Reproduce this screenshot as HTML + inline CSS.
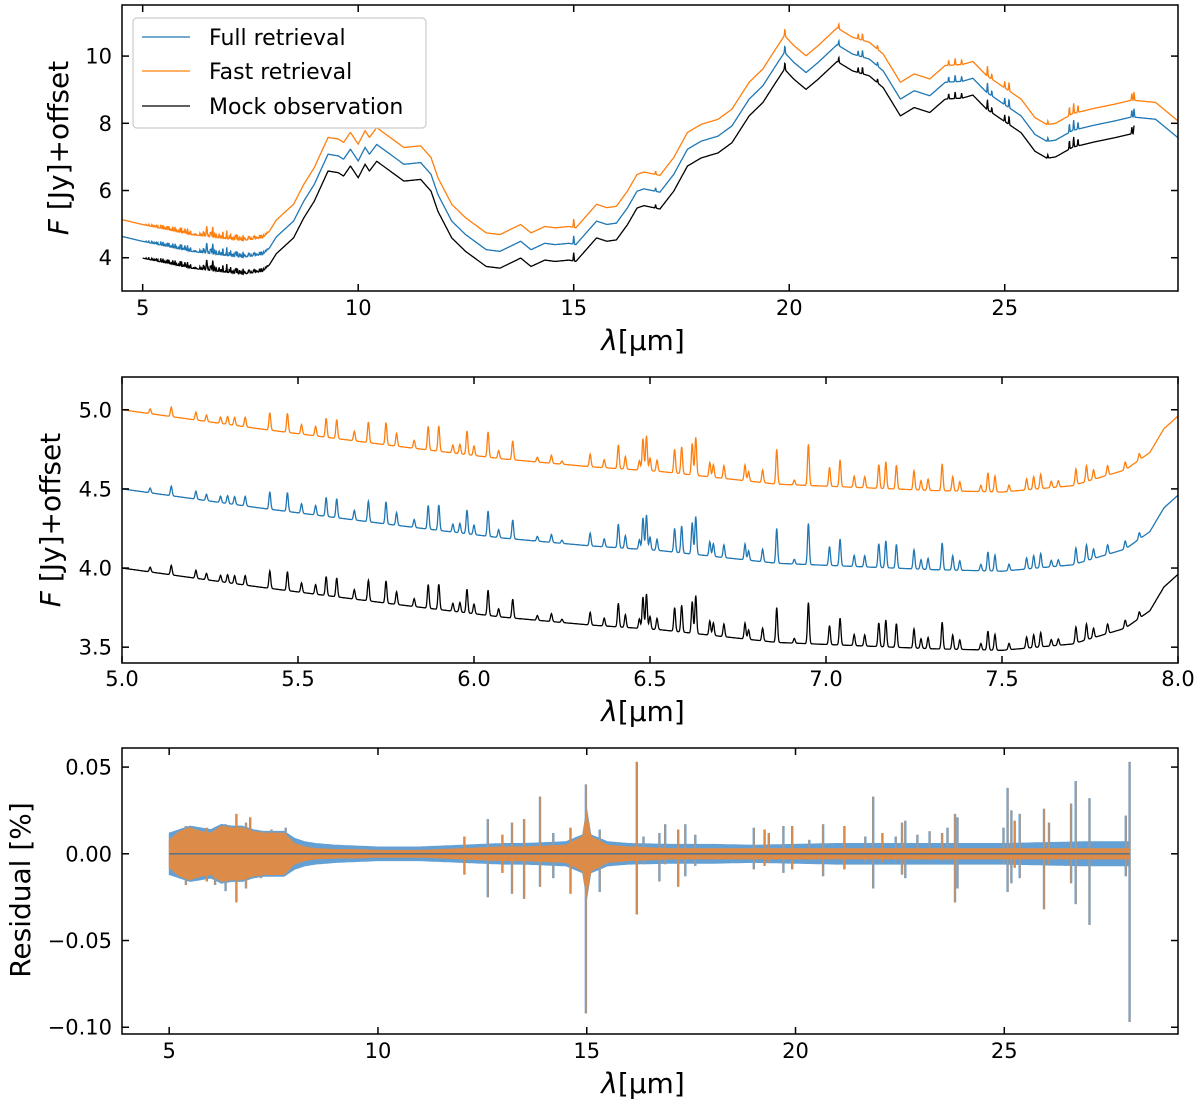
<!DOCTYPE html>
<html><head><meta charset="utf-8"><style>
html,body{margin:0;padding:0;background:#fff}
svg{display:block;font-family:"DejaVu Sans","Liberation Sans",sans-serif}
</style></head><body>
<svg id="fig" width="1200" height="1105" viewBox="0 0 1200 1105" xmlns="http://www.w3.org/2000/svg"></svg>
<script>
// ---------- Panel 1: full spectrum (mock observation baseline, offsets per series) ----------
const p1Lambda = [4.5,4.99,6.11,7.31,7.78,7.94,8.10,8.50,8.74,8.98,9.30,9.54,9.66,9.82,10.0,10.16,10.26,10.43,10.74,11.06,11.45,11.69,11.85,12.17,12.49,12.97,13.29,13.53,13.77,14.01,14.33,14.57,14.89,15.05,15.53,15.77,15.99,16.25,16.47,16.63,17.0,17.32,17.64,17.96,18.35,18.67,19.07,19.39,19.71,19.89,20.11,20.39,20.67,21.11,21.47,21.86,22.18,22.58,22.9,23.26,23.62,24.02,24.26,24.58,24.98,25.38,25.7,25.98,26.18,26.58,27.06,27.55,27.95,28.5,29.02];
const p1Flux = [4.14,3.99,3.69,3.51,3.59,3.79,4.12,4.59,5.19,5.68,6.58,6.53,6.43,6.73,6.38,6.78,6.58,6.87,6.58,6.28,6.33,5.98,5.38,4.59,4.19,3.74,3.69,3.84,3.99,3.74,3.93,3.89,3.93,3.89,4.59,4.49,4.53,4.99,5.48,5.55,5.45,5.98,6.73,6.97,7.12,7.42,8.22,8.62,9.26,9.61,9.31,9.01,9.31,9.84,9.56,9.41,9.06,8.22,8.47,8.32,8.72,8.75,8.84,8.42,8.07,7.72,7.17,6.96,7.0,7.29,7.44,7.57,7.69,7.62,7.07];
const p1LineLambda = [15.0,16.9,19.9,21.15,21.6,21.7,22.05,23.7,23.85,24.0,24.6,24.7,25.0,25.1,26.0,26.5,26.6,26.7,27.95,28.0];
const p1LineHeight = [0.25,0.1,0.2,0.15,0.15,0.2,0.12,0.15,0.2,0.15,0.3,0.15,0.2,0.25,0.1,0.25,0.3,0.2,0.2,0.25];
const seriesNames = ["Mock observation","Full retrieval","Fast retrieval"];
const seriesOffset = [0, 0.5, 1.0];
const mockRange = [5, 28];
const p1XTicks = [5,10,15,20,25];
const p1YTicks = [4,6,8,10];

// ---------- Panel 2: 5–8 µm zoom ----------
const p2Lambda = [5.0,5.39,5.78,6.08,6.33,6.53,6.86,7.3,7.5,7.7,7.85,7.92,7.96,8.0];
const p2Flux = [4.0,3.88,3.77,3.69,3.64,3.61,3.53,3.49,3.48,3.52,3.62,3.73,3.88,3.96];
const lineLambda = [5.08,5.14,5.21,5.24,5.28,5.30,5.32,5.35,5.42,5.47,5.51,5.55,5.58,5.61,5.66,5.70,5.75,5.78,5.83,5.87,5.90,5.94,5.96,5.98,6.00,6.04,6.07,6.11,6.18,6.22,6.25,6.33,6.37,6.41,6.43,6.47,6.48,6.49,6.50,6.52,6.57,6.59,6.62,6.63,6.67,6.68,6.71,6.77,6.78,6.82,6.86,6.91,6.95,7.01,7.04,7.08,7.11,7.15,7.17,7.20,7.25,7.27,7.29,7.33,7.36,7.38,7.44,7.46,7.48,7.52,7.57,7.59,7.61,7.64,7.66,7.71,7.74,7.76,7.80,7.85,7.89];
const lineHeight = [0.03,0.06,0.05,0.04,0.04,0.05,0.05,0.06,0.11,0.12,0.06,0.06,0.12,0.12,0.06,0.13,0.14,0.08,0.05,0.15,0.16,0.05,0.06,0.15,0.06,0.16,0.05,0.12,0.03,0.05,0.02,0.08,0.05,0.15,0.08,0.06,0.2,0.22,0.08,0.07,0.15,0.17,0.2,0.24,0.09,0.08,0.08,0.1,0.06,0.08,0.22,0.03,0.26,0.12,0.17,0.07,0.07,0.15,0.17,0.15,0.12,0.06,0.07,0.17,0.09,0.06,0.04,0.12,0.1,0.04,0.07,0.08,0.09,0.04,0.04,0.1,0.1,0.06,0.06,0.05,0.04];
const p2XTicks = [5.0,5.5,6.0,6.5,7.0,7.5,8.0];
const p2YTicks = [3.5,4.0,4.5,5.0];

// ---------- Panel 3: residuals ----------
const residLambda = [5,5.25,5.5,5.75,6,6.25,6.5,6.75,7,7.25,7.5,7.75,8,8.25,8.5,9,9.5,10,10.5,11,11.5,12,12.5,13,13.5,14,14.5,14.9,15,15.1,15.5,16,17,18,19,20,21,22,23,24,25,26,27,28];
const fullEnv = [12,14,16,15,14,17,16,16,14,13,13,13,9,7,6,5,4.5,4,4,4,4.5,5,5.5,6,6,6.5,7,11,26,11,7,6,5.5,5.5,5,5.5,6,6,6,6,6,6.5,7,7];
const fastEnv = [8,13,15,13,12,16,15,15,13,12,12,12,6,4,3,2.5,2.5,2,2,2,2.5,3,3.5,4,4,4.5,5,10,24,10,5,4,3,3,3,3,3,3,3,3,3,3,3,3];
const spikeLambda = [5.4,5.9,6.1,6.35,6.61,6.84,6.94,7.2,7.45,7.79,12.07,12.63,12.98,13.21,13.5,13.88,14.2,14.61,14.98,15.31,16.2,16.36,16.74,16.88,17.19,17.36,17.6,19.0,19.26,19.36,19.71,19.92,20.33,20.66,21.17,21.67,21.86,22.08,22.4,22.55,22.63,22.92,23.21,23.51,23.64,23.82,23.88,24.98,25.08,25.17,25.25,25.37,25.95,26.07,26.6,26.71,27.04,27.91,28.0];
const spikeUp = [16,15,14,17,23,18,21,13,14,15,10,20,11,18,20,33,12,15,40,14,53,10,12,17,14,17,11,15,14,12,16,16,8,17,16,10,33,12,10,18,19,11,13,12,15,23,21,15,38,25,19,23,26,18,29,42,32,22,53];
const spikeDown = [18,16,18,21.5,28,20,12,14,13,10,12,25,11,23,26,19,14,23,92,22,35,6,16,6,19,13,7,9,7,5,11,9,4,13,9,5,20,5,5,12,14,4,4,4,4,28,20,6,22,17,8,14,32,6,17,29,41,13,97];
const p3XTicks = [5,10,15,20,25];
const p3YTicks = [0.05,0.00,-0.05,-0.10];

// ---------- rendering ----------
const NS = "http://www.w3.org/2000/svg";
const svg = document.getElementById("fig");
function el(tag, attrs, parent) {
  const e = document.createElementNS(NS, tag);
  for (const k in attrs) e.setAttribute(k, attrs[k]);
  (parent || svg).appendChild(e);
  return e;
}
function interp(xs, ys, x) {
  if (x <= xs[0]) return ys[0];
  for (let i = 1; i < xs.length; i++) {
    if (x <= xs[i]) { const t = (x - xs[i-1]) / (xs[i] - xs[i-1]); return ys[i-1] + t * (ys[i] - ys[i-1]); }
  }
  return ys[ys.length - 1];
}
function lines(lam, hs, x, sig) {
  let s = 0;
  for (let i = 0; i < lam.length; i++) {
    const d = (x - lam[i]) / sig;
    if (d > -5 && d < 5) s += hs[i] * Math.exp(-0.5 * d * d);
  }
  return s;
}
function makeScale(d0, d1, r0, r1) { return v => r0 + (v - d0) / (d1 - d0) * (r1 - r0); }
const colors = ["#000000", "#1f77b4", "#ff7f0e"];
const seriesKeys = ["mock-observation", "full-retrieval", "fast-retrieval"];

function drawFrame(g, L, T, R, B, sx, sy, xt, yt, xfmt, yfmt, xLabelY, namePrefix) {
  const ticks = el("g", {stroke: "#000", "stroke-width": 1.5}, g);
  
  
  xt.forEach(v => {
    const x = sx(v);
    el("line", {x1: x, x2: x, y1: B, y2: B - 7}, ticks);
    el("line", {x1: x, x2: x, y1: T, y2: T + 7}, ticks);
    const t = el("text", {x: x, y: xLabelY, "text-anchor": "middle", "font-size": 21, fill: "#000"}, g);
    t.textContent = xfmt(v);
    
    
  });
  yt.forEach(v => {
    const y = sy(v);
    el("line", {x1: L, x2: L + 7, y1: y, y2: y}, ticks);
    el("line", {x1: R, x2: R - 7, y1: y, y2: y}, ticks);
    const t = el("text", {x: L - 10, y: y + 7.5, "text-anchor": "end", "font-size": 21, fill: "#000"}, g);
    t.textContent = yfmt(v);
    
    
  });
  const fr = el("rect", {x: L, y: T, width: R - L, height: B - T, fill: "none", stroke: "#000", "stroke-width": 1.5}, g);
  
  
}
function clip(id, L, T, R, B) {
  const cp = el("clipPath", {id: id});
  el("rect", {x: L, y: T, width: R - L, height: B - T}, cp);
}
function xLabel(g, cx, y, name) {
  const t = el("text", {x: cx, y: y, "text-anchor": "middle", "font-size": 28, fill: "#000"}, g);
  t.innerHTML = '<tspan font-style="italic">λ</tspan>[µm]';
  
  
}
function yLabel(g, x, cy, html, name) {
  const t = el("text", {x: 0, y: 0, "text-anchor": "middle", "font-size": 28, fill: "#000", transform: `translate(${x},${cy}) rotate(-90)`}, g);
  t.innerHTML = html;
  
  
}

// Panel 1
(function() {
  const L = 122, T = 5, R = 1178, B = 291;
  const sx = makeScale(4.52, 29.02, L, R), sy = makeScale(3.01, 11.52, B, T);
  const g = el("g", {});
  
  
  clip("c1", L, T, R, B);
  const plot = el("g", {"clip-path": "url(#c1)"}, g);
  [2, 1, 0].forEach(si => {
    const lo = si === 0 ? mockRange[0] : 4.52, hi = si === 0 ? mockRange[1] : 29.02;
    let d = "";
    for (let x = lo; x <= hi + 1e-9; x += 0.008) {
      let v = interp(p1Lambda, p1Flux, x) + seriesOffset[si] + lines(lineLambda, lineHeight, x, 0.006) + lines(p1LineLambda, p1LineHeight, x, 0.008);
      d += (d ? "L" : "M") + sx(x).toFixed(1) + " " + sy(v).toFixed(1);
    }
    const p = el("path", {d: d, fill: "none", stroke: colors[si], "stroke-width": 1.3}, plot);
    
    
  });
  drawFrame(g, L, T, R, B, sx, sy, p1XTicks, p1YTicks, v => String(v), v => String(v), 315, "panel1");
  xLabel(g, 643, 350, "panel1-x-axis-title");
  yLabel(g, 68, 148, '<tspan font-style="italic">F</tspan> [Jy]+offset', "panel1-y-axis-title");
  const lg = el("g", {}, g);
  
  
  el("rect", {x: 133, y: 18, width: 293, height: 110, rx: 4, fill: "#fff", "fill-opacity": 0.85, stroke: "#cccccc", "stroke-width": 1.2}, lg);
  [[1, 37], [2, 71], [0, 106]].forEach(([si, y]) => {
    const e = el("g", {}, lg);
    
    
    el("line", {x1: 142, x2: 190, y1: y, y2: y, stroke: colors[si], "stroke-width": 1.3}, e);
    const t = el("text", {x: 209, y: y + 8, "font-size": 22, fill: "#000"}, e);
    t.textContent = seriesNames[si];
  });
})();

// Panel 2
(function() {
  const L = 122, T = 377, R = 1178, B = 663;
  const sx = makeScale(5.0, 8.0, L, R), sy = makeScale(3.40, 5.207, B, T);
  const g = el("g", {});
  
  
  clip("c2", L, T, R, B);
  const plot = el("g", {"clip-path": "url(#c2)"}, g);
  [2, 1, 0].forEach(si => {
    let d = "";
    for (let x = 5.0; x <= 8.0 + 1e-9; x += 0.001) {
      const v = interp(p2Lambda, p2Flux, x) + seriesOffset[si] + lines(lineLambda, lineHeight, x, 0.0025);
      d += (d ? "L" : "M") + sx(x).toFixed(1) + " " + sy(v).toFixed(1);
    }
    const p = el("path", {d: d, fill: "none", stroke: colors[si], "stroke-width": 1.3}, plot);
    
    
  });
  drawFrame(g, L, T, R, B, sx, sy, p2XTicks, p2YTicks, v => v.toFixed(1), v => v.toFixed(1), 686, "panel2");
  xLabel(g, 643, 721, "panel2-x-axis-title");
  yLabel(g, 60, 520, '<tspan font-style="italic">F</tspan> [Jy]+offset', "panel2-y-axis-title");
})();

// Panel 3
(function() {
  const L = 122, T = 748, R = 1178, B = 1034;
  const sx = makeScale(3.87, 29.16, L, R), sy = makeScale(-0.1039, 0.061, B, T);
  const g = el("g", {});
  
  
  clip("c3", L, T, R, B);
  const plot = el("g", {"clip-path": "url(#c3)"}, g);
  function band(env, color, name) {
    let up = "", dn = [];
    for (let x = 5; x <= 28 + 1e-9; x += 0.05) {
      const a = interp(residLambda, env, x) / 1000;
      up += (up ? "L" : "M") + sx(x).toFixed(1) + " " + sy(a).toFixed(1);
      dn.push(sx(x).toFixed(1) + " " + sy(-a).toFixed(1));
    }
    const p = el("path", {d: up + "L" + dn.reverse().join("L") + "Z", fill: color, stroke: color, "stroke-width": 0.8}, plot);
    
    
  }
  function spikes(color, w, name) {
    let d = "";
    for (let i = 0; i < spikeLambda.length; i++) {
      const x = sx(spikeLambda[i]).toFixed(1);
      d += `M${x} ${sy(spikeUp[i] / 1000).toFixed(1)}L${x} ${sy(-spikeDown[i] / 1000).toFixed(1)}`;
    }
    const p = el("path", {d: d, fill: "none", stroke: color, "stroke-width": w}, plot);
    
    
  }
  band(fullEnv, "#64a0d4", "full-retrieval-residual-band");
  spikes("#64a0d4", 2.4, "full-retrieval-residual-spikes");
  band(fastEnv, "#dc8c48", "fast-retrieval-residual-band");
  spikes("#dc8c48", 1.4, "fast-retrieval-residual-spikes");
  const z = el("line", {x1: sx(5), x2: sx(28), y1: sy(0), y2: sy(0), stroke: "#4a6e8e", "stroke-width": 1.4}, plot);
  
  
  drawFrame(g, L, T, R, B, sx, sy, p3XTicks, p3YTicks, v => String(v), v => (v < 0 ? "−" : "") + Math.abs(v).toFixed(2), 1058, "panel3");
  xLabel(g, 643, 1093, "panel3-x-axis-title");
  yLabel(g, 30, 890, 'Residual [%]', "panel3-y-axis-title");
})();
</script>
</body></html>
